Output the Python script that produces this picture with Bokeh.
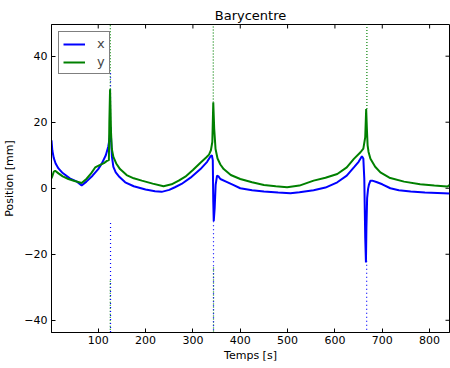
import math
from bokeh.plotting import figure
from bokeh.models import Range1d, Legend, LegendItem, CustomJSTickFormatter, FixedTicker
from bokeh.embed import file_html
from bokeh.resources import INLINE

# ---- data ----
t_x = [1.3, 3, 6, 10, 16, 25, 40, 55, 65, 75, 88, 100, 108, 116, 121, 124, 126, 127.5, 129, 132, 137,
       145, 157, 175, 200, 220, 234, 250, 262, 276, 295, 316, 330, 337, 340, 342, 343, 344, 346,
       348, 351, 354, 358, 370, 385, 400, 425, 450, 480, 506, 525, 555, 580, 605, 625, 640, 650,
       657, 660, 662, 664, 665.5, 666.5, 668, 670, 672, 675, 679, 689, 700, 717, 735, 760, 790, 830, 842]
x_vals = [14.5, 11.5, 9.2, 7.5, 6.0, 4.6, 3.0, 2.0, 0.8, 2.0, 3.8, 5.8, 7.6, 10.0, 12.5, 15.0, 18.5, 14.0, 9.5, 6.5, 4.8,
          3.4, 1.8, 0.6, -0.4, -0.9, -1.1, -0.5, 0.3, 1.3, 3.2, 5.8, 8.0, 9.6, 10.0, 8.5, -4.0, -10.0, -6.0,
          1.0, 3.8, 3.6, 2.8, 2.0, 1.0, 0.0, -0.6, -1.0, -1.3, -1.5, -1.2, -0.6, 0.2, 1.8, 3.8, 6.3, 8.0,
          9.7, 9.0, 3.0, -15.0, -22.5, -12.0, -3.0, -0.2, 1.2, 2.3, 2.3, 1.8, 1.2, 0.0, -0.6, -1.0, -1.3, -1.5, -1.6]

t_y = [1.3, 3.4, 6, 9, 16, 25, 37, 50, 65, 75, 85, 93.5, 103, 112, 118.5, 122.5, 123.5, 125, 126, 127, 128.7,
       132, 138, 146, 160, 175, 192, 215, 238, 255, 270, 284, 300, 316.5, 328, 334, 338, 341, 343, 345,
       347.8, 352, 358, 365, 380, 400, 425, 450, 475, 499, 525, 555, 580, 605, 625, 640, 654, 660, 664,
       666, 667.5, 669, 671, 675, 685, 696, 715, 746, 780, 810, 830, 838, 842]
y_vals = [3.0, 3.8, 5.0, 5.3, 4.5, 3.6, 2.8, 2.2, 1.6, 2.8, 4.5, 6.3, 7.0, 7.6, 8.3, 8.5, 20.0, 30.0, 24.0, 17.0, 11.9,
          9.5, 7.5, 5.8, 4.0, 3.0, 2.3, 1.4, 0.6, 1.2, 2.3, 3.5, 5.5, 7.8, 9.3, 10.2, 11.5, 14.0, 26.0, 18.0,
          11.9, 9.0, 7.2, 5.8, 4.0, 2.8, 1.8, 1.0, 0.6, 0.3, 0.8, 2.3, 3.2, 4.3, 6.3, 8.9, 10.9, 12.0, 15.5,
          24.0, 18.0, 13.0, 11.0, 8.9, 6.5, 4.8, 3.2, 2.0, 1.2, 0.8, 0.6, 0.5, 1.0]

# noisy spikes (drawn dotted): time, start value, end value
spike_x_t = [126, 126, 343.5, 667]
spike_x_v0 = [20.0, -10.5, -10.0, -22.0]
spike_x_v1 = [35.0, -43.7, -43.7, -43.7]

spike_y_t = [125.5, 125.5, 343, 343.5, 667.5]
spike_y_v0 = [30.0, -28.0, 26.0, -24.0, 24.0]
spike_y_v1 = [49.6, -43.7, 49.6, -43.7, 49.6]

x_ticks = [100, 200, 300, 400, 500, 600, 700, 800]
y_ticks = [-40, -20, 0, 20, 40]

X_MIN, X_MAX = 1.3, 842
Y_MIN, Y_MAX = -43.7, 49.6

BLUE = "#0000ff"
GREEN = "#008000"
FONT = "DejaVu Sans"

p = figure(frame_width=398, frame_height=308, output_backend="svg", toolbar_location=None,
           x_range=Range1d(X_MIN, X_MAX), y_range=Range1d(Y_MIN, Y_MAX),
           title="Barycentre", min_border_left=43, min_border_top=17,
           min_border_right=1, min_border_bottom=0)
p.margin = (4, 0, 0, 0)
p.title.align = "center"
p.title.text_font = FONT
p.title.text_font_size = "13px"
p.title.text_font_style = "normal"
p.title.text_color = "black"
p.title.standoff = 3

p.xgrid.visible = False
p.ygrid.visible = False
p.outline_line_color = "black"
p.outline_line_width = 1
p.background_fill_color = "white"
p.border_fill_color = "white"

fmt = CustomJSTickFormatter(code="return tick.toString().replace('-', '\\u2212');")

for ax in p.xaxis + p.yaxis:
    ax.major_tick_in = 4
    ax.major_tick_out = 0
    ax.minor_tick_in = 0
    ax.minor_tick_out = 0
    ax.axis_line_color = "black"
    ax.major_tick_line_color = "black"
    ax.major_label_text_font = FONT
    ax.major_label_text_font_size = "11px"
    ax.major_label_text_color = "black"
    ax.axis_label_text_font = FONT
    ax.axis_label_text_font_size = "11px"
    ax.axis_label_text_font_style = "normal"
    ax.axis_label_text_color = "black"
    ax.formatter = fmt

p.xaxis.ticker = FixedTicker(ticks=x_ticks)
p.yaxis.ticker = FixedTicker(ticks=y_ticks)
p.xaxis.axis_label = "Temps [s]"
p.yaxis.axis_label = "Position [mm]"
p.xaxis.major_label_standoff = 3
p.yaxis.major_label_standoff = 4
p.xaxis.axis_label_standoff = 2
p.yaxis.axis_label_standoff = 5

# inward ticks on the top and right edges (clipped to the frame -> half length inside)
p.scatter(x=[X_MAX] * len(y_ticks), y=y_ticks, marker="dash", size=8,
          line_color="black", line_width=1)
p.scatter(x=x_ticks, y=[Y_MAX] * len(x_ticks), marker="dash", size=8, angle=math.pi / 2,
          line_color="black", line_width=1)

# spikes
p.segment(x0=spike_y_t, y0=spike_y_v0, x1=spike_y_t, y1=spike_y_v1,
          line_color=GREEN, line_width=1.2, line_dash="1 2")
p.segment(x0=spike_x_t, y0=spike_x_v0, x1=spike_x_t, y1=spike_x_v1,
          line_color=BLUE, line_width=1.2, line_dash="1 3")

rx = p.line(t_x, x_vals, line_color=BLUE, line_width=2)
ry = p.line(t_y, y_vals, line_color=GREEN, line_width=2)

legend = Legend(items=[LegendItem(label="x", renderers=[rx]),
                       LegendItem(label="y", renderers=[ry])],
                location="top_left")
legend.margin = 7
legend.padding = 4
legend.spacing = 3
legend.glyph_width = 22
legend.glyph_height = 12
legend.label_height = 12
legend.label_width = 8
legend.label_standoff = 12
legend.label_text_font = FONT
legend.label_text_font_size = "13px"
legend.border_line_color = "black"
legend.border_line_width = 1
legend.background_fill_alpha = 1
p.add_layout(legend)

open("out.html", "w").write(file_html(p, INLINE))
